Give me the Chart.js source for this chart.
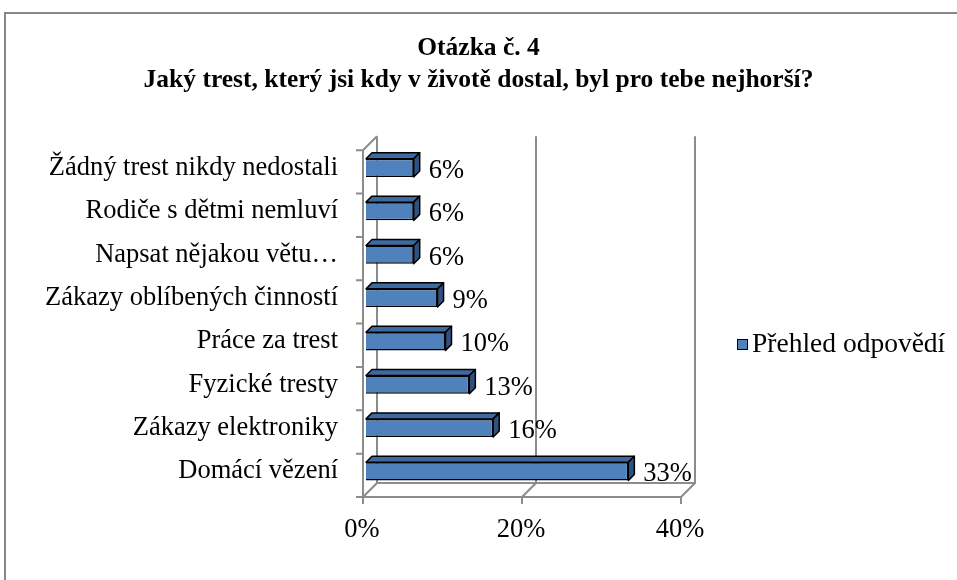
<!DOCTYPE html>
<html>
<head>
<meta charset="utf-8">
<style>
  html, body { margin: 0; padding: 0; background: #fff; }
  canvas { display: block; }
</style>
<script src="https://cdn.jsdelivr.net/npm/chart.js@4/dist/chart.umd.min.js"></script>
</head>
<body>
<canvas id="otazka4" width="957" height="580"></canvas>
<script>
// answers (top to bottom as in the picture)
const categories = [
    'Žádný trest nikdy nedostali',
    'Rodiče s dětmi nemluví',
    'Napsat nějakou větu…',
    'Zákazy oblíbených činností',
    'Práce za trest',
    'Fyzické tresty',
    'Zákazy elektroniky',
    'Domácí vězení'
];
const answerShares = [6, 6, 6, 9, 10, 13, 16, 33];
const seriesName = 'Přehled odpovědí';
const titleLines = ['Otázka č. 4', 'Jaký trest, který jsi kdy v životě dostal, byl pro tebe nejhorší?'];
const xTicks = [0, 20, 40];

const FONT = '"Liberation Serif", "Times New Roman", serif';
const TXT = 26.5;
const WALL = '#8c8c8c';
const DEPTH = 6;                       // bar depth
const front = { dx: -3, dy: 4 };       // front plane relative to bars
const back = { dx: 11, dy: -10 };      // back wall relative to bars

// frame + 3d walls, drawn before bars
const wallsPlugin = {
    id: 'walls',
    beforeDraw(chart) {
        const c = chart.ctx;
        c.save();
        c.strokeStyle = '#878787';
        c.lineWidth = 2;
        c.strokeRect(5, 13, 1200, 1200);
        c.restore();
    },
    beforeDatasetsDraw(chart) {
        const c = chart.ctx;
        const a = chart.chartArea;
        const xs = chart.scales.x;
        const x0 = xs.getPixelForValue(0);
        const xMax = xs.getPixelForValue(40);
        const n = categories.length;
        c.save();
        c.strokeStyle = WALL;
        c.lineWidth = 2;
        c.beginPath();
        // left wall
        c.moveTo(x0 + front.dx, a.top + front.dy);
        c.lineTo(x0 + front.dx, a.bottom + front.dy);
        c.moveTo(x0 + front.dx, a.top + front.dy);
        c.lineTo(x0 + back.dx, a.top + back.dy);
        // floor edges
        c.moveTo(x0 + front.dx, a.bottom + front.dy);
        c.lineTo(xMax + front.dx, a.bottom + front.dy);
        c.moveTo(x0 + back.dx, a.bottom + back.dy);
        c.lineTo(xMax + back.dx, a.bottom + back.dy);
        xTicks.forEach(v => {
            const px = xs.getPixelForValue(v);
            c.moveTo(px + front.dx, a.bottom + front.dy);
            c.lineTo(px + back.dx, a.bottom + back.dy);
            c.lineTo(px + back.dx, a.top + back.dy);
            // tick below floor
            c.moveTo(px + front.dx, a.bottom + front.dy);
            c.lineTo(px + front.dx, a.bottom + front.dy + 7);
        });
        // category ticks
        for (let i = 0; i <= n; i++) {
            const py = a.top + i * (a.bottom - a.top) / n + front.dy;
            c.moveTo(x0 + front.dx - 7, py);
            c.lineTo(x0 + front.dx, py);
        }
        c.stroke();
        c.restore();
    },
    afterDatasetsDraw(chart) {
        const c = chart.ctx;
        const meta = chart.getDatasetMeta(0);
        c.save();
        c.lineWidth = 1.5;
        c.strokeStyle = '#000';
        c.lineJoin = 'round';
        meta.data.forEach((bar, i) => {
            const top = bar.y - bar.height / 2;
            const bottom = bar.y + bar.height / 2;
            // top face
            c.beginPath();
            c.moveTo(bar.base, top);
            c.lineTo(bar.base + DEPTH, top - DEPTH);
            c.lineTo(bar.x + DEPTH, top - DEPTH);
            c.lineTo(bar.x, top);
            c.closePath();
            c.fillStyle = '#3f6a9f';
            c.fill();
            c.stroke();
            // side face
            c.beginPath();
            c.moveTo(bar.x, top);
            c.lineTo(bar.x + DEPTH, top - DEPTH);
            c.lineTo(bar.x + DEPTH, bottom - DEPTH);
            c.lineTo(bar.x, bottom);
            c.closePath();
            c.fillStyle = '#2f5381';
            c.fill();
            c.stroke();
            // value label
            c.fillStyle = '#000';
            c.font = TXT + 'px ' + FONT;
            c.textAlign = 'left';
            c.textBaseline = 'middle';
            c.fillText(answerShares[i] + '%', bar.x + 15, bar.y + 3);
        });
        c.restore();
    },
    afterDraw(chart) {
        // legend on the right
        const c = chart.ctx;
        const ds = chart.data.datasets[0];
        c.save();
        c.fillStyle = ds.backgroundColor;
        c.fillRect(737, 339, 10, 10);
        c.strokeStyle = '#000';
        c.lineWidth = 1;
        c.strokeRect(737.5, 339.5, 10, 10);
        c.fillStyle = '#000';
        c.font = '27.5px ' + FONT;
        c.textBaseline = 'middle';
        c.fillText(ds.label, 752, 345);
        c.restore();
    }
};

new Chart(document.getElementById('otazka4'), {
    type: 'bar',
    data: {
        labels: categories,
        datasets: [{
            label: seriesName,
            data: answerShares,
            backgroundColor: '#4f81bd',
            borderColor: '#000',
            borderWidth: 1.5,
            barPercentage: 0.42,
            categoryPercentage: 1
        }]
    },
    options: {
        indexAxis: 'y',
        responsive: false,
        animation: false,
        layout: { padding: 0 },
        plugins: {
            legend: { display: false },
            tooltip: { enabled: false },
            title: {
                display: true,
                text: titleLines,
                color: '#000',
                font: { family: FONT, size: 25.5, weight: 'bold', lineHeight: 1.24 },
                padding: { top: 33, bottom: 50 }
            }
        },
        scales: {
            x: {
                min: 0,
                max: 40,
                afterBuildTicks: s => { s.ticks = xTicks.map(v => ({ value: v })); },
                afterFit: s => { s.height = 87; },
                grid: { display: false },
                border: { display: false },
                ticks: {
                    padding: 13,
                    labelOffset: -4,
                    maxRotation: 0,
                    color: '#000',
                    font: { family: FONT, size: TXT },
                    callback: v => v + '%'
                }
            },
            y: {
                afterFit: s => { s.width = 366; },
                grid: { display: false },
                border: { display: false },
                ticks: {
                    padding: 20,
                    color: '#000',
                    font: { family: FONT, size: TXT }
                }
            },
            // empty space on the right that holds the legend
            legendSpace: {
                type: 'linear',
                axis: 'y',
                position: 'right',
                afterFit: s => { s.width = 273; },
                grid: { display: false },
                border: { display: false },
                ticks: { display: false }
            }
        }
    },
    plugins: [wallsPlugin]
});
</script>
</body>
</html>
